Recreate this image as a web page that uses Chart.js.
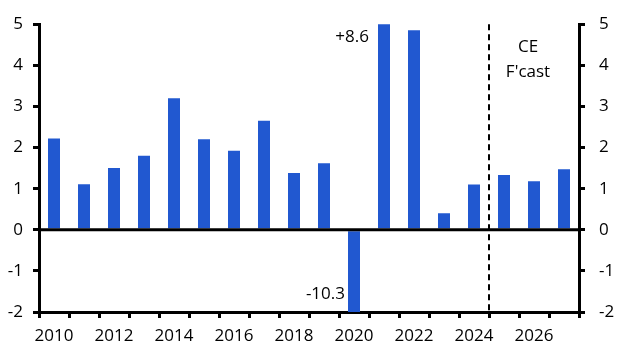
<!DOCTYPE html>
<html lang="en">
<head>
  <meta charset="UTF-8" />
  <title>Annual growth chart</title>
  <script src="https://cdn.jsdelivr.net/npm/chart.js"></script>
  <style>
    html, body { margin: 0; padding: 0; background: #fff; }
    #wrap { width: 629px; height: 354px; }
  </style>
</head>
<body>
<div id="wrap"><canvas id="growthChart" width="629" height="354"></canvas></div>
<script>
  // Data
  const years = ['2010', '2011', '2012', '2013', '2014', '2015', '2016', '2017', '2018',
                 '2019', '2020', '2021', '2022', '2023', '2024', '2025', '2026', '2027'];
  const growth = [2.22, 1.11, 1.5, 1.8, 3.2, 2.2, 1.92, 2.65, 1.38,
                  1.62, -10.3, 8.6, 4.85, 0.4, 1.1, 1.33, 1.18, 1.47];
  const yTicks = [-2, -1, 0, 1, 2, 3, 4, 5];
  const forecastStart = '2025';

  const barBlue = '#2158d0';
  const font = { family: "'Open Sans', 'Noto Sans', sans-serif", size: 17 };

  // dashed forecast line, zero line and the text labels
  const extras = {
    id: 'extras',
    afterDatasetsDraw(chart) {
      const { ctx, chartArea, scales } = chart;
      const x = scales.x, y = scales.y;
      const fi = years.indexOf(forecastStart);
      const xf = (x.getPixelForValue(fi - 1) + x.getPixelForValue(fi)) / 2;

      ctx.save();
      // zero line
      ctx.strokeStyle = '#000';
      ctx.lineWidth = 3;
      ctx.beginPath();
      ctx.moveTo(chartArea.left, y.getPixelForValue(0));
      ctx.lineTo(chartArea.right, y.getPixelForValue(0));
      ctx.stroke();

      // forecast divider
      ctx.lineWidth = 2;
      ctx.setLineDash([6, 4]);
      ctx.beginPath();
      ctx.moveTo(xf, chartArea.top);
      ctx.lineTo(xf, chartArea.bottom);
      ctx.stroke();
      ctx.setLineDash([]);

      ctx.fillStyle = '#000';
      ctx.font = `${font.size}px ${font.family}`;
      ctx.textBaseline = 'middle';

      // values of clipped bars
      const half = x.getPixelForValue(1) - x.getPixelForValue(0);
      const i21 = years.indexOf('2021');
      ctx.textAlign = 'right';
      ctx.fillText('+' + growth[i21].toFixed(1), x.getPixelForValue(i21) - half * 0.2 - 9, chartArea.top + 13);
      const i20 = years.indexOf('2020');
      ctx.fillText(growth[i20].toFixed(1), x.getPixelForValue(i20) - half * 0.2 - 3, chartArea.bottom - 18);

      // forecast label
      ctx.textAlign = 'center';
      const xc = x.getPixelForValue(years.indexOf('2026')) - 6;
      ctx.fillText('CE', xc, chartArea.top + 23);
      ctx.fillText("F'cast", xc, chartArea.top + 48);
      ctx.restore();
    }
  };

  const yAxis = (position, width, pad) => ({
    position,
    min: -2,
    max: 5,
    afterBuildTicks: s => { s.ticks = yTicks.map(v => ({ value: v })); },
    afterFit: s => { s.width = width; },
    border: { display: true, color: '#000', width: 3 },
    grid: { drawOnChartArea: false, drawTicks: true, tickLength: 6, color: '#000', lineWidth: 3 },
    ticks: { color: '#000', font, padding: pad }
  });

  new Chart(document.getElementById('growthChart'), {
    type: 'bar',
    data: {
      labels: years,
      datasets: [{
        data: growth,
        backgroundColor: barBlue,
        barPercentage: 0.4,
        categoryPercentage: 1.0
      }]
    },
    options: {
      responsive: false,
      animation: false,
      layout: { padding: { top: 22, left: 0, right: 0, bottom: 0 } },
      plugins: { legend: { display: false }, tooltip: { enabled: false } },
      scales: {
        x: {
          offset: true,
          afterFit: s => { s.height = 42; },
          border: { display: true, color: '#000', width: 3 },
          grid: { offset: true, drawOnChartArea: false, drawTicks: true, tickLength: 6, color: '#000', lineWidth: 3 },
          ticks: {
            color: '#000', font, padding: 8, autoSkip: false, maxRotation: 0,
            callback: (v, i) => (i % 2 === 0 ? years[i] : '')
          }
        },
        y: yAxis('left', 39, 10),
        y2: yAxis('right', 50, 14)
      }
    },
    plugins: [extras]
  });
</script>
</body>
</html>
